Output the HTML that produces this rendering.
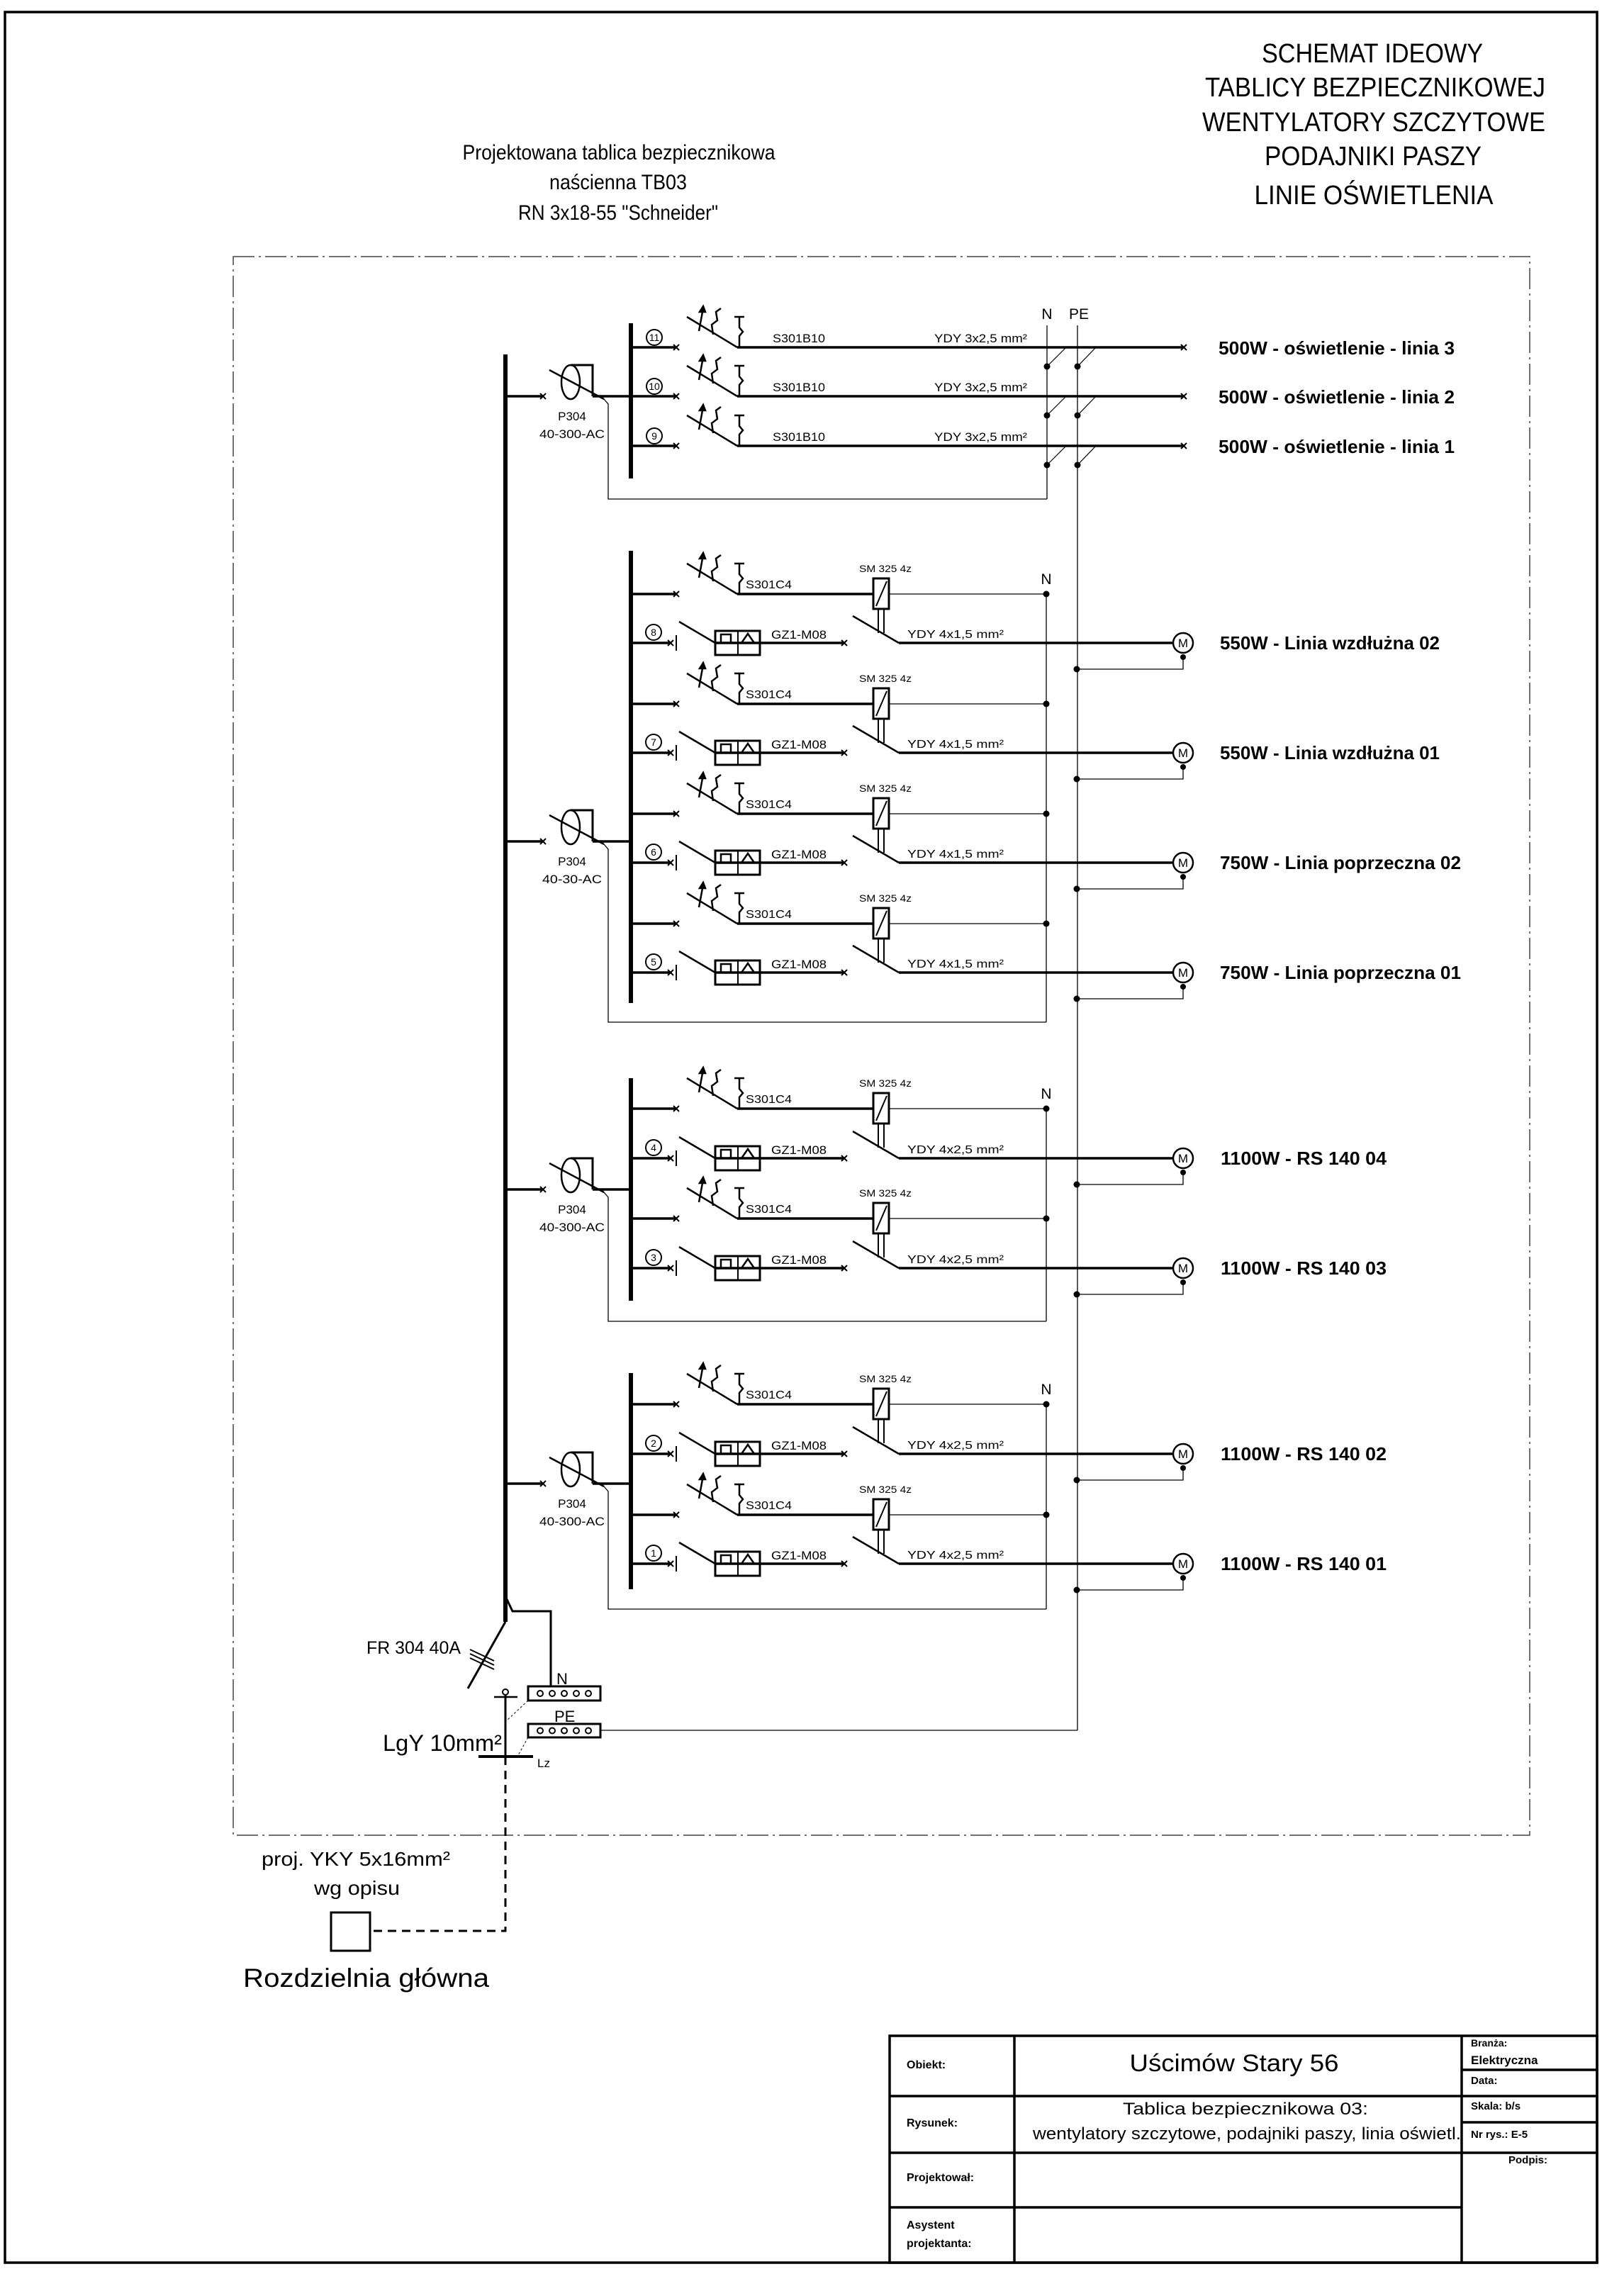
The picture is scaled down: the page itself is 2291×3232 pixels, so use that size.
<!DOCTYPE html>
<html><head><meta charset="utf-8"><style>
html,body{margin:0;padding:0;background:#fff}
svg{display:block}
text{font-family:"Liberation Sans Narrow","Liberation Sans",sans-serif;fill:#000}
</style></head><body>
<svg width="2291" height="3232" viewBox="0 0 2291 3232" xmlns="http://www.w3.org/2000/svg">
<defs>
<g id="xm" stroke="#000" stroke-width="2"><line x1="-4" y1="-4" x2="4" y2="4"/><line x1="-4" y1="4" x2="4" y2="-4"/></g>
<g id="mcb" stroke="#000" stroke-width="2.5" fill="none">
<line x1="969" y1="-43" x2="1040" y2="0"/>
<line x1="986" y1="-23" x2="991" y2="-50"/>
<polygon points="987,-50 995,-50 992,-58" fill="#000"/>
<polyline points="1006,-18 1004,-32 1012,-38 1010,-50 1017,-55"/>
<line x1="1036" y1="-43" x2="1050" y2="-43"/>
<polyline points="1043,-43 1043,-28 1048,-22 1043,-16 1043,0"/>
</g>
<g id="lrow">
<line x1="891" y1="0" x2="954" y2="0" stroke="#000" stroke-width="3.5"/>
<use href="#xm" x="954"/>
<use href="#mcb"/>
<line x1="1040" y1="0" x2="1670" y2="0" stroke="#000" stroke-width="3.5"/>
<use href="#xm" x="1670"/>
<circle cx="1477" cy="27" r="4.5"/><circle cx="1520" cy="27" r="4.5"/>
<line x1="1477" y1="27" x2="1504" y2="0" stroke="#000" stroke-width="1.2"/>
<line x1="1520" y1="27" x2="1546" y2="0" stroke="#000" stroke-width="1.2"/>
</g>
<g id="arow">
<line x1="891" y1="0" x2="954" y2="0" stroke="#000" stroke-width="3.5"/>
<use href="#xm" x="954"/>
<use href="#mcb"/>
<line x1="1040" y1="0" x2="1232" y2="0" stroke="#000" stroke-width="3.5"/>
<rect x="1232" y="-22" width="22" height="43" fill="#fff" stroke="#000" stroke-width="3"/>
<line x1="1251" y1="-18" x2="1236" y2="17" stroke="#000" stroke-width="2"/>
<line x1="1254" y1="0" x2="1476" y2="0" stroke="#000" stroke-width="1.3"/>
<circle cx="1476" cy="0" r="4.5"/>
<line x1="1239" y1="21" x2="1239" y2="55" stroke="#000" stroke-width="2"/>
<line x1="1247" y1="21" x2="1247" y2="55" stroke="#000" stroke-width="2"/>
</g>
<g id="brow">
<line x1="891" y1="0" x2="946" y2="0" stroke="#000" stroke-width="3.5"/>
<use href="#xm" x="946"/>
<line x1="954" y1="-11" x2="954" y2="11" stroke="#000" stroke-width="2"/>
<line x1="958" y1="-30" x2="1009" y2="0" stroke="#000" stroke-width="2.5"/>
<rect x="1009" y="-17" width="63" height="34" fill="none" stroke="#000" stroke-width="3"/>
<line x1="1041" y1="-17" x2="1041" y2="17" stroke="#000" stroke-width="2"/>
<line x1="1009" y1="0" x2="1191" y2="0" stroke="#000" stroke-width="3.5"/>
<polyline points="1017,0 1017,-12 1031,-12 1031,0" fill="none" stroke="#000" stroke-width="2.5"/>
<polyline points="1046,0 1055,-13 1064,0" fill="none" stroke="#000" stroke-width="2.5"/>
<use href="#xm" x="1191"/>
<line x1="1203" y1="-38" x2="1268" y2="0" stroke="#000" stroke-width="2.5"/>
<line x1="1268" y1="0" x2="1655" y2="0" stroke="#000" stroke-width="3.5"/>
<circle cx="1669" cy="0" r="14" fill="#fff" stroke="#000" stroke-width="2.5"/>
<text x="1669" y="6" font-size="17" text-anchor="middle">M</text>
<circle cx="1669" cy="20" r="4"/>
<polyline points="1669,20 1669,37 1519,37" fill="none" stroke="#000" stroke-width="1.3"/>
<circle cx="1519" cy="37" r="4.5"/>
</g>
<g id="rcd">
<line x1="713" y1="0" x2="766" y2="0" stroke="#000" stroke-width="3.5"/>
<use href="#xm" x="766"/>
<ellipse cx="805" cy="-20" rx="13" ry="24" fill="none" stroke="#000" stroke-width="2.5"/>
<polyline points="805,-44 836,-44 836,0" fill="none" stroke="#000" stroke-width="3"/>
<line x1="775" y1="-37" x2="852" y2="4" stroke="#000" stroke-width="2.5"/>
<line x1="836" y1="0" x2="891" y2="0" stroke="#000" stroke-width="3.5"/>
</g>
</defs>

<rect x="7" y="17" width="2246" height="3175" fill="none" stroke="#000" stroke-width="3.5"/>

<g font-size="38" text-anchor="middle">
<text x="1936" y="88" textLength="312" lengthAdjust="spacingAndGlyphs">SCHEMAT IDEOWY</text>
<text x="1940" y="136" textLength="480" lengthAdjust="spacingAndGlyphs">TABLICY BEZPIECZNIKOWEJ</text>
<text x="1938" y="185" textLength="484" lengthAdjust="spacingAndGlyphs">WENTYLATORY SZCZYTOWE</text>
<text x="1937" y="233" textLength="306" lengthAdjust="spacingAndGlyphs">PODAJNIKI PASZY</text>
<text x="1938" y="288" textLength="337" lengthAdjust="spacingAndGlyphs">LINIE OŚWIETLENIA</text>
</g>
<g font-size="30" text-anchor="middle">
<text x="873" y="225" textLength="441" lengthAdjust="spacingAndGlyphs">Projektowana tablica bezpiecznikowa</text>
<text x="872" y="267" textLength="194" lengthAdjust="spacingAndGlyphs">naścienna TB03</text>
<text x="872" y="310" textLength="282" lengthAdjust="spacingAndGlyphs">RN 3x18-55 "Schneider"</text>
</g>

<rect x="329" y="362" width="1829" height="2227" fill="none" stroke="#444" stroke-width="1.5" stroke-dasharray="30 6 3 6"/>

<line x1="713" y1="500" x2="713" y2="2288" stroke="#000" stroke-width="6"/>
<g stroke="#000" stroke-width="6">
<line x1="890" y1="456" x2="890" y2="675"/>
<line x1="890" y1="777" x2="890" y2="1415"/>
<line x1="890" y1="1521" x2="890" y2="1835"/>
<line x1="890" y1="1937" x2="890" y2="2242"/>
</g>

<g stroke="#000" stroke-width="1.3" fill="none">
<line x1="1477" y1="459" x2="1477" y2="704"/>
<line x1="1520" y1="459" x2="1520" y2="2441"/>
<line x1="1476" y1="838" x2="1476" y2="1442"/>
<line x1="1476" y1="1564" x2="1476" y2="1864"/>
<line x1="1476" y1="1981" x2="1476" y2="2270"/>
<polyline points="852,563 858,570 858,704 1477,704"/>
<polyline points="852,1191 858,1198 858,1442 1476,1442"/>
<polyline points="852,1682 858,1689 858,1864 1476,1864"/>
<polyline points="852,2097 858,2104 858,2270 1476,2270"/>
</g>
<g font-size="21" text-anchor="middle">
<text x="1477" y="450">N</text><text x="1522" y="450">PE</text>
<text x="1476" y="824">N</text><text x="1476" y="1550">N</text><text x="1476" y="1967">N</text>
</g>

<use href="#rcd" y="559"/><use href="#rcd" y="1187"/><use href="#rcd" y="1678"/><use href="#rcd" y="2093"/>
<g font-size="17" text-anchor="middle">
<text x="807" y="593">P304</text><text x="807" y="618" textLength="92" lengthAdjust="spacingAndGlyphs">40-300-AC</text>
<text x="807" y="1221">P304</text><text x="807" y="1246" textLength="84" lengthAdjust="spacingAndGlyphs">40-30-AC</text>
<text x="807" y="1712">P304</text><text x="807" y="1737" textLength="92" lengthAdjust="spacingAndGlyphs">40-300-AC</text>
<text x="807" y="2127">P304</text><text x="807" y="2152" textLength="92" lengthAdjust="spacingAndGlyphs">40-300-AC</text>
</g>

<g transform="translate(0,490)"><use href="#lrow"/>
<circle cx="923" cy="-14" r="11" fill="#fff" stroke="#000" stroke-width="2"/><text x="923" y="-9" font-size="14" text-anchor="middle">11</text>
<text x="1090" y="-7" font-size="17" textLength="74" lengthAdjust="spacingAndGlyphs">S301B10</text>
<text x="1318" y="-7" font-size="17" textLength="131" lengthAdjust="spacingAndGlyphs">YDY  3x2,5 mm²</text>
<text x="1719" y="10" font-size="26" font-weight="bold" textLength="333" lengthAdjust="spacingAndGlyphs">500W - oświetlenie - linia 3</text></g>
<g transform="translate(0,559)"><use href="#lrow"/>
<circle cx="923" cy="-14" r="11" fill="#fff" stroke="#000" stroke-width="2"/><text x="923" y="-9" font-size="14" text-anchor="middle">10</text>
<text x="1090" y="-7" font-size="17" textLength="74" lengthAdjust="spacingAndGlyphs">S301B10</text>
<text x="1318" y="-7" font-size="17" textLength="131" lengthAdjust="spacingAndGlyphs">YDY  3x2,5 mm²</text>
<text x="1719" y="10" font-size="26" font-weight="bold" textLength="333" lengthAdjust="spacingAndGlyphs">500W - oświetlenie - linia 2</text></g>
<g transform="translate(0,629)"><use href="#lrow"/>
<circle cx="923" cy="-14" r="11" fill="#fff" stroke="#000" stroke-width="2"/><text x="923" y="-9" font-size="14" text-anchor="middle">9</text>
<text x="1090" y="-7" font-size="17" textLength="74" lengthAdjust="spacingAndGlyphs">S301B10</text>
<text x="1318" y="-7" font-size="17" textLength="131" lengthAdjust="spacingAndGlyphs">YDY  3x2,5 mm²</text>
<text x="1719" y="10" font-size="26" font-weight="bold" textLength="333" lengthAdjust="spacingAndGlyphs">500W - oświetlenie - linia 1</text></g>

<g font-size="16">
<g transform="translate(0,838)"><use href="#arow"/><text x="1212" y="-31" font-size="14" textLength="74" lengthAdjust="spacingAndGlyphs">SM 325 4z</text><text x="1052" y="-8" textLength="65" lengthAdjust="spacingAndGlyphs">S301C4</text></g>
<g transform="translate(0,993)"><use href="#arow"/><text x="1212" y="-31" font-size="14" textLength="74" lengthAdjust="spacingAndGlyphs">SM 325 4z</text><text x="1052" y="-8" textLength="65" lengthAdjust="spacingAndGlyphs">S301C4</text></g>
<g transform="translate(0,1148)"><use href="#arow"/><text x="1212" y="-31" font-size="14" textLength="74" lengthAdjust="spacingAndGlyphs">SM 325 4z</text><text x="1052" y="-8" textLength="65" lengthAdjust="spacingAndGlyphs">S301C4</text></g>
<g transform="translate(0,1303)"><use href="#arow"/><text x="1212" y="-31" font-size="14" textLength="74" lengthAdjust="spacingAndGlyphs">SM 325 4z</text><text x="1052" y="-8" textLength="65" lengthAdjust="spacingAndGlyphs">S301C4</text></g>
<g transform="translate(0,1564)"><use href="#arow"/><text x="1212" y="-31" font-size="14" textLength="74" lengthAdjust="spacingAndGlyphs">SM 325 4z</text><text x="1052" y="-8" textLength="65" lengthAdjust="spacingAndGlyphs">S301C4</text></g>
<g transform="translate(0,1719)"><use href="#arow"/><text x="1212" y="-31" font-size="14" textLength="74" lengthAdjust="spacingAndGlyphs">SM 325 4z</text><text x="1052" y="-8" textLength="65" lengthAdjust="spacingAndGlyphs">S301C4</text></g>
<g transform="translate(0,1981)"><use href="#arow"/><text x="1212" y="-31" font-size="14" textLength="74" lengthAdjust="spacingAndGlyphs">SM 325 4z</text><text x="1052" y="-8" textLength="65" lengthAdjust="spacingAndGlyphs">S301C4</text></g>
<g transform="translate(0,2137)"><use href="#arow"/><text x="1212" y="-31" font-size="14" textLength="74" lengthAdjust="spacingAndGlyphs">SM 325 4z</text><text x="1052" y="-8" textLength="65" lengthAdjust="spacingAndGlyphs">S301C4</text></g>
</g>

<g font-size="16">
<g transform="translate(0,907)"><use href="#brow"/><circle cx="922" cy="-15" r="11" fill="#fff" stroke="#000" stroke-width="2"/><text x="922" y="-10" font-size="14" text-anchor="middle">8</text><text x="1088" y="-6" font-size="17" textLength="78" lengthAdjust="spacingAndGlyphs">GZ1-M08</text><text x="1280" y="-7" textLength="136" lengthAdjust="spacingAndGlyphs">YDY  4x1,5 mm²</text><text x="1721" y="9" font-size="26" font-weight="bold" textLength="310" lengthAdjust="spacingAndGlyphs">550W - Linia wzdłużna 02</text></g>
<g transform="translate(0,1062)"><use href="#brow"/><circle cx="922" cy="-15" r="11" fill="#fff" stroke="#000" stroke-width="2"/><text x="922" y="-10" font-size="14" text-anchor="middle">7</text><text x="1088" y="-6" font-size="17" textLength="78" lengthAdjust="spacingAndGlyphs">GZ1-M08</text><text x="1280" y="-7" textLength="136" lengthAdjust="spacingAndGlyphs">YDY  4x1,5 mm²</text><text x="1721" y="9" font-size="26" font-weight="bold" textLength="310" lengthAdjust="spacingAndGlyphs">550W - Linia wzdłużna 01</text></g>
<g transform="translate(0,1217)"><use href="#brow"/><circle cx="922" cy="-15" r="11" fill="#fff" stroke="#000" stroke-width="2"/><text x="922" y="-10" font-size="14" text-anchor="middle">6</text><text x="1088" y="-6" font-size="17" textLength="78" lengthAdjust="spacingAndGlyphs">GZ1-M08</text><text x="1280" y="-7" textLength="136" lengthAdjust="spacingAndGlyphs">YDY  4x1,5 mm²</text><text x="1721" y="9" font-size="26" font-weight="bold" textLength="340" lengthAdjust="spacingAndGlyphs">750W - Linia poprzeczna 02</text></g>
<g transform="translate(0,1372)"><use href="#brow"/><circle cx="922" cy="-15" r="11" fill="#fff" stroke="#000" stroke-width="2"/><text x="922" y="-10" font-size="14" text-anchor="middle">5</text><text x="1088" y="-6" font-size="17" textLength="78" lengthAdjust="spacingAndGlyphs">GZ1-M08</text><text x="1280" y="-7" textLength="136" lengthAdjust="spacingAndGlyphs">YDY  4x1,5 mm²</text><text x="1721" y="9" font-size="26" font-weight="bold" textLength="340" lengthAdjust="spacingAndGlyphs">750W - Linia poprzeczna 01</text></g>
<g transform="translate(0,1634)"><use href="#brow"/><circle cx="922" cy="-15" r="11" fill="#fff" stroke="#000" stroke-width="2"/><text x="922" y="-10" font-size="14" text-anchor="middle">4</text><text x="1088" y="-6" font-size="17" textLength="78" lengthAdjust="spacingAndGlyphs">GZ1-M08</text><text x="1280" y="-7" textLength="136" lengthAdjust="spacingAndGlyphs">YDY  4x2,5 mm²</text><text x="1722" y="9" font-size="26" font-weight="bold" textLength="234" lengthAdjust="spacingAndGlyphs">1100W - RS 140 04</text></g>
<g transform="translate(0,1789)"><use href="#brow"/><circle cx="922" cy="-15" r="11" fill="#fff" stroke="#000" stroke-width="2"/><text x="922" y="-10" font-size="14" text-anchor="middle">3</text><text x="1088" y="-6" font-size="17" textLength="78" lengthAdjust="spacingAndGlyphs">GZ1-M08</text><text x="1280" y="-7" textLength="136" lengthAdjust="spacingAndGlyphs">YDY  4x2,5 mm²</text><text x="1722" y="9" font-size="26" font-weight="bold" textLength="234" lengthAdjust="spacingAndGlyphs">1100W - RS 140 03</text></g>
<g transform="translate(0,2051)"><use href="#brow"/><circle cx="922" cy="-15" r="11" fill="#fff" stroke="#000" stroke-width="2"/><text x="922" y="-10" font-size="14" text-anchor="middle">2</text><text x="1088" y="-6" font-size="17" textLength="78" lengthAdjust="spacingAndGlyphs">GZ1-M08</text><text x="1280" y="-7" textLength="136" lengthAdjust="spacingAndGlyphs">YDY  4x2,5 mm²</text><text x="1722" y="9" font-size="26" font-weight="bold" textLength="234" lengthAdjust="spacingAndGlyphs">1100W - RS 140 02</text></g>
<g transform="translate(0,2206)"><use href="#brow"/><circle cx="922" cy="-15" r="11" fill="#fff" stroke="#000" stroke-width="2"/><text x="922" y="-10" font-size="14" text-anchor="middle">1</text><text x="1088" y="-6" font-size="17" textLength="78" lengthAdjust="spacingAndGlyphs">GZ1-M08</text><text x="1280" y="-7" textLength="136" lengthAdjust="spacingAndGlyphs">YDY  4x2,5 mm²</text><text x="1722" y="9" font-size="26" font-weight="bold" textLength="234" lengthAdjust="spacingAndGlyphs">1100W - RS 140 01</text></g>
</g>

<g stroke="#000" fill="none">
<line x1="713" y1="2288" x2="660" y2="2382" stroke-width="3"/>
<polyline points="713,2252 723,2273 777,2273 777,2379" stroke-width="3"/>
<line x1="663" y1="2327" x2="697" y2="2343" stroke-width="2"/>
<line x1="663" y1="2333" x2="697" y2="2349" stroke-width="2"/>
<line x1="663" y1="2339" x2="697" y2="2355" stroke-width="2"/>
<rect x="745" y="2379" width="102" height="20" stroke-width="3"/>
<rect x="745" y="2432" width="102" height="19" stroke-width="3"/>
<g stroke-width="2"><circle cx="762" cy="2389" r="4"/><circle cx="779" cy="2389" r="4"/><circle cx="796" cy="2389" r="4"/><circle cx="813" cy="2389" r="4"/><circle cx="830" cy="2389" r="4"/>
<circle cx="762" cy="2441.5" r="4"/><circle cx="779" cy="2441.5" r="4"/><circle cx="796" cy="2441.5" r="4"/><circle cx="813" cy="2441.5" r="4"/><circle cx="830" cy="2441.5" r="4"/></g>
<line x1="847" y1="2441" x2="1520" y2="2441" stroke-width="1.3"/>
<circle cx="713" cy="2387" r="4" stroke-width="2"/>
<line x1="697" y1="2394" x2="730" y2="2394" stroke-width="2.5"/>
<line x1="713" y1="2391" x2="713" y2="2478" stroke-width="3"/>
<line x1="675" y1="2478" x2="752" y2="2478" stroke-width="4"/>
<line x1="745" y1="2399" x2="713" y2="2429" stroke-width="1" stroke-dasharray="3 3"/>
<line x1="745" y1="2451" x2="731" y2="2476" stroke-width="1" stroke-dasharray="3 3"/>
<polyline points="713,2478 713,2724 522,2724" stroke-width="3" stroke-dasharray="12 8"/>
<rect x="467" y="2698" width="55" height="54" stroke-width="3"/>
</g>
<text x="517" y="2333" font-size="25" textLength="133" lengthAdjust="spacingAndGlyphs" style="font-family:'Liberation Sans',sans-serif">FR 304 40A</text>
<text x="785" y="2376" font-size="22" style="font-family:'Liberation Sans',sans-serif">N</text>
<text x="782" y="2429" font-size="22" style="font-family:'Liberation Sans',sans-serif">PE</text>
<text x="758" y="2493" font-size="17" style="font-family:'Liberation Sans',sans-serif">Lz</text>
<text x="540" y="2470" font-size="32" textLength="168" lengthAdjust="spacingAndGlyphs" style="font-family:'Liberation Sans',sans-serif">LgY 10mm²</text>
<text x="369" y="2632" font-size="28" textLength="266" lengthAdjust="spacingAndGlyphs" style="font-family:'Liberation Sans',sans-serif">proj. YKY 5x16mm²</text>
<text x="443" y="2673" font-size="28" textLength="121" lengthAdjust="spacingAndGlyphs" style="font-family:'Liberation Sans',sans-serif">wg opisu</text>
<text x="343" y="2803" font-size="37" textLength="347" lengthAdjust="spacingAndGlyphs" style="font-family:'Liberation Sans',sans-serif">Rozdzielnia główna</text>

<g stroke="#000" stroke-width="3.5" fill="none">
<rect x="1255" y="2872" width="998" height="320"/>
<line x1="1255" y1="2957" x2="2253" y2="2957"/>
<line x1="1255" y1="3037" x2="2253" y2="3037"/>
<line x1="1255" y1="3114" x2="2062" y2="3114"/>
<line x1="1431" y1="2872" x2="1431" y2="3192"/>
<line x1="2062" y1="2872" x2="2062" y2="3192"/>
<line x1="2062" y1="2920" x2="2253" y2="2920"/>
<line x1="2062" y1="2994" x2="2253" y2="2994"/>
</g>
<g font-weight="bold">
<text x="1279" y="2918" font-size="16">Obiekt:</text>
<text x="1279" y="3000" font-size="16">Rysunek:</text>
<text x="1279" y="3077" font-size="16">Projektował:</text>
<text x="1279" y="3144" font-size="16">Asystent</text>
<text x="1279" y="3170" font-size="16">projektanta:</text>
<text x="2075" y="2887" font-size="14">Branża:</text>
<text x="2075" y="2912" font-size="17">Elektryczna</text>
<text x="2075" y="2940" font-size="15">Data:</text>
<text x="2075" y="2976" font-size="15">Skala:  b/s</text>
<text x="2075" y="3016" font-size="15">Nr rys.:  E-5</text>
<text x="2128" y="3052" font-size="15">Podpis:</text>
</g>
<text x="1741" y="2922" font-size="34" text-anchor="middle" textLength="295" lengthAdjust="spacingAndGlyphs">Uścimów Stary 56</text>
<text x="1757" y="2983" font-size="24" text-anchor="middle" textLength="346" lengthAdjust="spacingAndGlyphs">Tablica bezpiecznikowa 03:</text>
<text x="1759" y="3018" font-size="24" text-anchor="middle" textLength="604" lengthAdjust="spacingAndGlyphs">wentylatory szczytowe, podajniki paszy, linia oświetl.</text>
</svg>
</body></html>
